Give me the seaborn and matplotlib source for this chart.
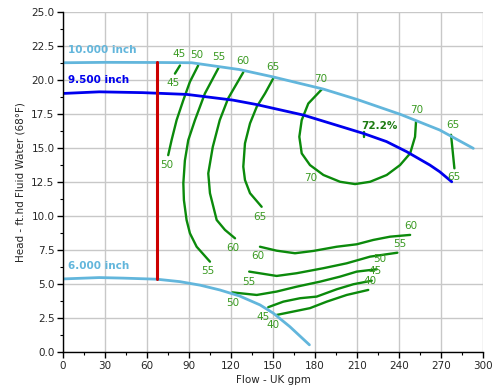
import seaborn as sns
import matplotlib.pyplot as plt
import pandas as pd
from matplotlib.ticker import MultipleLocator

# impeller curves (flow UK gpm, head ft)
d10_flow = [0, 30, 67, 92, 126, 150, 186, 210, 241, 269, 293]
d10_head = [21.3, 21.33, 21.32, 21.3, 20.8, 20.26, 19.36, 18.6, 17.5, 16.35, 15.0]
d95_flow = [0, 26, 57, 88.5, 121.4, 138, 171.7, 195.5, 214.5, 231, 245.5, 262, 269, 277.6]
d95_head = [19.04, 19.16, 19.1, 18.97, 18.55, 18.23, 17.45, 16.7, 16.1, 15.5, 14.75, 13.77, 13.28, 12.54]
d6_flow = [0, 26, 43, 67, 83.6, 98, 112, 126, 140.7, 150.2, 162, 176]
d6_head = [5.39, 5.49, 5.45, 5.37, 5.19, 4.93, 4.58, 4.14, 3.48, 2.87, 1.88, 0.54]

# duty point line
duty_flow = [67, 67]
duty_head = [21.32, 5.39]

# efficiency contours
eff_lines = {
    "45a": ([83.6, 80], [21.1, 20.5]),
    "50a": ([96.6, 90.7, 86, 81.2, 77.6, 75.2], [21.1, 19.9, 18.55, 17.08, 15.6, 14.5]),
    "55a": ([111, 101.4, 94.3, 89.5, 87.1, 86, 86.4, 88.3, 90.7, 95.5, 105],
            [20.9, 19.04, 17.08, 15.6, 14.1, 12.43, 11.2, 9.73, 8.75, 7.76, 6.66]),
    "60a": ([128.8, 118, 112, 107, 103.8, 105, 109.8, 115.7, 122.9],
            [20.6, 18.68, 17.08, 15.1, 13.16, 11.7, 9.73, 9.0, 8.38]),
    "65a": ([150.2, 144.3, 138.4, 133.6, 130, 128.8, 130, 133.6, 141.9],
            [20.15, 19.04, 18.06, 16.84, 15.37, 13.65, 12.67, 11.7, 10.7]),
    "70": ([184.8, 175.2, 170.5, 168.8, 170.5, 176.4, 186, 197.9, 208.6, 219.3, 231.2, 240.7, 247.9, 251.4, 252.1],
           [19.34, 18.3, 17.08, 15.85, 14.63, 13.77, 13.04, 12.54, 12.37, 12.54, 13.04, 13.77, 14.63, 15.85, 16.96]),
    "65b": ([277.1, 279.5], [16.0, 13.53]),
    "60b": ([140.7, 152.6, 165.7, 178.8, 195.5, 209.8, 221.6, 233.6, 247.9],
            [7.76, 7.47, 7.28, 7.45, 7.76, 7.94, 8.26, 8.5, 8.63]),
    "55b": ([133, 152.6, 166.9, 186, 202.6, 219.3, 238.8],
            [5.93, 5.61, 5.81, 6.18, 6.54, 7.03, 7.32]),
    "50b": ([121, 126.4, 138.4, 152.6, 166.9, 183.6, 197.9, 209.8, 224.1],
            [4.4, 4.34, 4.21, 4.46, 4.82, 5.19, 5.56, 5.93, 6.1]),
    "45b": ([146.6, 157.4, 169.3, 181.2, 195.5, 207.4, 220.5],
            [3.31, 3.72, 3.97, 4.09, 4.63, 5.0, 5.26]),
    "40b": ([152.6, 164.5, 176.4, 188.4, 202.6, 218],
            [2.74, 2.99, 3.24, 3.72, 4.21, 4.58]),
    "bep": ([215, 215], [16.22, 15.85]),
}

# contour labels
eff_label_text = ["45", "45", "50", "50", "55", "55", "60", "60", "65", "65", "70", "70", "70",
                  "65", "65", "60", "60", "55", "55", "50", "50", "45", "45", "40", "40"]
eff_label_x = [82.9, 78.6, 95.5, 74.1, 111, 103.6, 128.8, 121.2, 149.8, 140.7, 184, 252.6, 176.9,
               278.4, 278.8, 248.4, 139.5, 240.2, 132.4, 226.4, 121.4, 222.9, 143.1, 219.3, 150.2]
eff_label_y = [21.93, 19.8, 21.86, 13.8, 21.74, 6.0, 21.44, 7.65, 21.0, 9.97, 20.07, 17.82, 12.79,
               16.71, 12.91, 9.31, 7.08, 7.96, 5.19, 6.86, 3.6, 5.98, 2.57, 5.26, 2.0]

sns.set_style("whitegrid", {"grid.color": "#c8c8c8", "axes.edgecolor": "black"})
plt.rcParams["font.family"] = ["DejaVu Sans"]

fig, ax = plt.subplots(figsize=(4.95, 3.9), dpi=100)
fig.subplots_adjust(left=0.127, right=0.976, top=0.968, bottom=0.097)

green = "#0b8a0b"
label_green = "#3a9a22"
light_blue = "#62b6dc"

for key, (fx, hy) in eff_lines.items():
    sns.lineplot(x=fx, y=hy, ax=ax, sort=False, color=green, linewidth=1.7, estimator=None)

sns.lineplot(x=d10_flow, y=d10_head, ax=ax, sort=False, color=light_blue, linewidth=2, estimator=None)
sns.lineplot(x=d95_flow, y=d95_head, ax=ax, sort=False, color="#0000ee", linewidth=2, estimator=None)
sns.lineplot(x=d6_flow, y=d6_head, ax=ax, sort=False, color=light_blue, linewidth=2, estimator=None)
sns.lineplot(x=duty_flow, y=duty_head, ax=ax, sort=False, color="#cc0000", linewidth=2.2, estimator=None)

for t, lx, ly in zip(eff_label_text, eff_label_x, eff_label_y):
    ax.text(lx, ly, t, color=label_green, fontsize=7.5, ha="center", va="center")
ax.text(225.7, 16.64, "72.2%", color="#1c7a10", fontsize=7.5, fontweight="bold", ha="center", va="center")

ax.text(3.6, 22.23, "10.000 inch", color=light_blue, fontsize=7.5, fontweight="bold", ha="left", va="center")
ax.text(3.6, 20.02, "9.500 inch", color="#0000ee", fontsize=7.5, fontweight="bold", ha="left", va="center")
ax.text(3.6, 6.35, "6.000 inch", color=light_blue, fontsize=7.5, fontweight="bold", ha="left", va="center")

ax.set_xlim(0, 300)
ax.set_ylim(0, 25)
ax.xaxis.set_major_locator(MultipleLocator(30))
ax.xaxis.set_minor_locator(MultipleLocator(15))
ax.yaxis.set_major_locator(MultipleLocator(2.5))
ax.yaxis.set_minor_locator(MultipleLocator(1.25))
ax.yaxis.set_major_formatter(plt.FormatStrFormatter("%.1f"))
ax.tick_params(axis="both", which="major", direction="out", length=4, width=1, labelsize=7.5, color="black", pad=2)
ax.tick_params(axis="both", which="minor", direction="out", length=2, width=0.8, color="black")
ax.tick_params(bottom=True, left=True, which="both")
ax.grid(True, which="major", color="#c8c8c8", linewidth=1)
ax.grid(False, which="minor")

for side in ["top", "right"]:
    ax.spines[side].set_visible(False)
ax.spines["left"].set_linewidth(1)
ax.spines["bottom"].set_linewidth(1)

ax.set_xlabel("Flow - UK gpm", fontsize=7.5, labelpad=3)
ax.set_ylabel("Head - ft.hd Fluid Water (68°F)", fontsize=7.5, labelpad=4)

plt.savefig("out.png", dpi=100)
